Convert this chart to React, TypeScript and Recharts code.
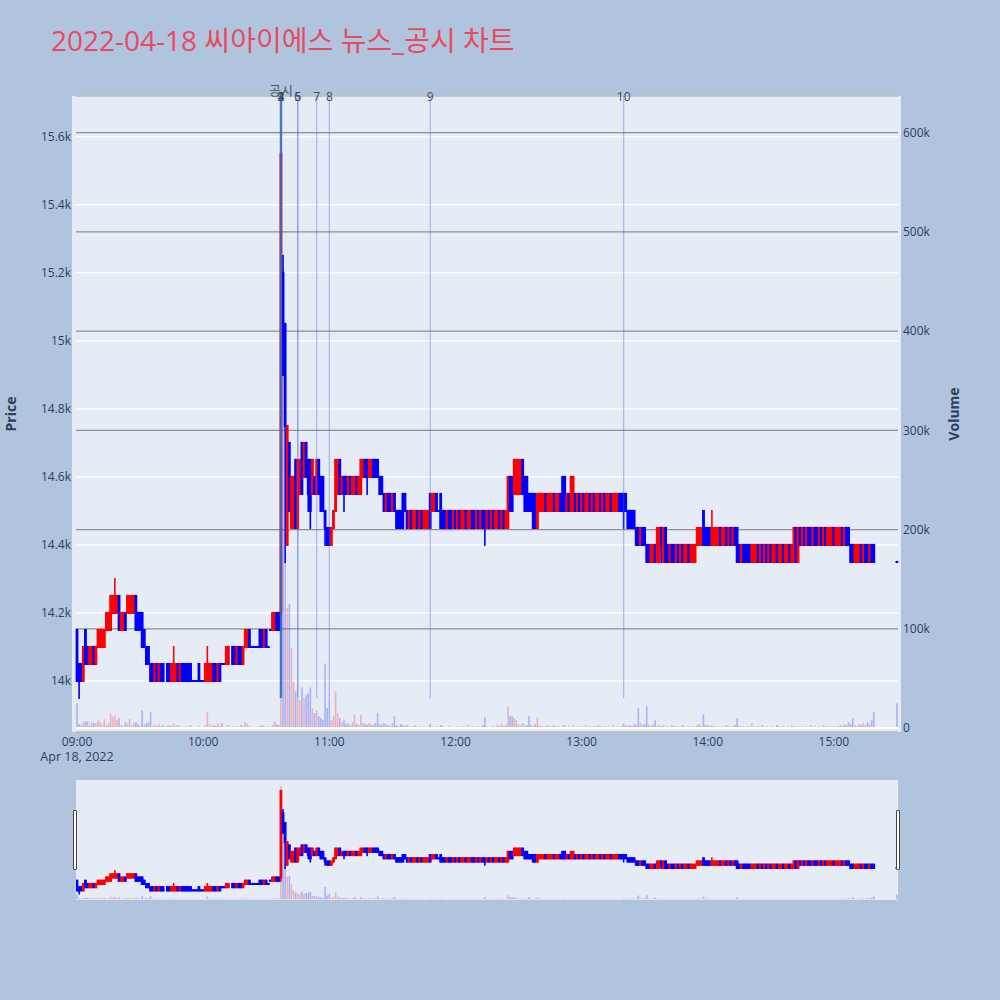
import { ComposedChart, Bar, XAxis, YAxis, CartesianGrid, ReferenceLine } from "recharts";

type Candle = [number, number, number, number] | null; // open, high, low, close

const title = "2022-04-18 씨아이에스 뉴스_공시 차트";
const dateLabel = "Apr 18, 2022";

const timeTicks = [0, 60, 120, 180, 240, 300, 360];
const timeLabels = ["09:00", "10:00", "11:00", "12:00", "13:00", "14:00", "15:00"];
const priceTicks = [14000, 14200, 14400, 14600, 14800, 15000, 15200, 15400, 15600];
const priceLabels = ["14k", "14.2k", "14.4k", "14.6k", "14.8k", "15k", "15.2k", "15.4k", "15.6k"];
const volumeTicks = [0, 100000, 200000, 300000, 400000, 500000, 600000];
const volumeLabels = ["0", "100k", "200k", "300k", "400k", "500k", "600k"];

// news / disclosure markers (minute index from 09:00)
const newsMinutes = [97, 97, 97, 97, 105, 105, 114, 120, 168, 260];
const newsLabels = ["1", "2", "3", "4", "5", "6", "7", "8", "9", "10"];

// 1-minute candles, 09:00 ~ 15:30
const c09: Candle[] = [
  [14150,14150,14000,14000],[14050,14050,13950,14000],[14050,14050,14000,14000],[14000,14100,14000,14100],[14150,14150,14050,14050],
  [14100,14100,14050,14050],[14050,14100,14050,14100],[14050,14100,14050,14100],[14100,14100,14050,14050],[14050,14100,14050,14100],
  [14100,14150,14100,14150],[14100,14150,14100,14150],[14100,14150,14100,14150],[14100,14150,14100,14150],[14150,14200,14150,14200],
  [14150,14200,14150,14200],[14150,14250,14150,14250],[14200,14250,14200,14250],[14200,14300,14200,14250],[14200,14250,14200,14250],
  [14250,14250,14150,14150],[14150,14200,14150,14200],[14150,14200,14150,14200],[14200,14200,14150,14150],[14200,14250,14200,14250],
  [14200,14250,14200,14250],[14200,14250,14200,14250],[14200,14250,14200,14250],[14250,14250,14150,14150],[14200,14200,14150,14150],
  [14200,14200,14150,14150],[14200,14200,14100,14100],[14150,14150,14100,14100],[14100,14100,14050,14050],[14100,14100,14050,14050],
  [14050,14050,14000,14000],[14050,14050,14000,14000],[14000,14050,14000,14050],[14050,14050,14000,14000],[14000,14050,14000,14050],
  [14050,14050,14000,14000],[14050,14050,14000,14000],null,[14050,14050,14000,14000],[14050,14050,14000,14000],
  [14000,14050,14000,14050],[14000,14100,14000,14050],[14000,14050,14000,14050],[14050,14050,14000,14000],[14000,14050,14000,14050],
  [14050,14050,14000,14000],[14050,14050,14000,14000],[14050,14050,14000,14000],[14050,14050,14000,14000],[14050,14050,14000,14000],
  [14000,14000,14000,14000],[14000,14000,14000,14000],[14000,14000,14000,14000],[14050,14050,14000,14000],[14000,14000,14000,14000],
];
const c10: Candle[] = [
  [14000,14000,14000,14000],[14000,14050,14000,14050],[14000,14100,14000,14050],[14000,14050,14000,14050],[14000,14050,14000,14050],
  [14050,14050,14000,14000],[14050,14050,14000,14000],[14000,14050,14000,14050],[14050,14050,14000,14000],[14050,14050,14050,14050],
  [14050,14050,14050,14050],[14050,14100,14050,14100],[14050,14100,14050,14100],null,[14100,14100,14050,14050],
  [14100,14100,14050,14050],[14050,14100,14050,14100],[14100,14100,14050,14050],[14100,14100,14050,14050],[14050,14100,14050,14100],
  [14100,14150,14100,14150],[14100,14150,14100,14150],[14150,14150,14100,14100],[14100,14100,14100,14100],[14100,14100,14100,14100],
  [14100,14100,14100,14100],[14100,14100,14100,14100],[14150,14150,14100,14100],[14150,14150,14100,14100],[14100,14150,14100,14150],
  [14150,14150,14100,14100],[14100,14100,14100,14100],[14150,14150,14150,14150],[14150,14200,14150,14200],[14150,14200,14150,14200],
  [14200,14200,14150,14150],[14200,14200,14150,14150],[14200,15550,14150,15550],[15200,15250,14900,14900],[15050,15050,14350,14750],
  [14400,14750,14400,14750],[14700,14700,14500,14500],[14450,14600,14450,14600],[14450,14600,14450,14600],[14650,14650,14450,14450],
  [14450,14650,14450,14650],[14550,14650,14550,14650],[14700,14700,14550,14550],[14600,14700,14600,14700],[14700,14700,14600,14600],
  [14650,14650,14500,14550],[14650,14650,14450,14500],[14550,14650,14550,14650],[14600,14600,14550,14550],[14550,14650,14550,14650],
  [14650,14650,14550,14550],[14600,14600,14500,14500],[14600,14600,14500,14500],[14500,14500,14400,14450],[14450,14450,14400,14400],
];
const c11: Candle[] = [
  [14450,14450,14400,14400],[14400,14450,14400,14450],[14450,14500,14450,14500],[14500,14650,14500,14650],[14550,14650,14550,14650],
  [14650,14650,14550,14550],[14550,14600,14550,14600],[14600,14600,14500,14550],[14600,14600,14550,14550],[14550,14600,14550,14600],
  [14600,14600,14550,14550],[14550,14600,14550,14600],[14550,14600,14550,14600],[14600,14600,14550,14550],[14550,14600,14550,14600],
  [14550,14650,14550,14650],[14600,14650,14600,14650],[14650,14650,14600,14600],[14650,14650,14550,14600],[14600,14650,14600,14650],
  [14600,14650,14600,14650],[14650,14650,14600,14600],[14650,14650,14600,14600],[14650,14650,14600,14600],[14600,14600,14550,14550],
  [14600,14600,14550,14550],[14550,14550,14500,14500],[14500,14550,14500,14550],[14550,14550,14500,14500],[14550,14550,14500,14500],
  [14500,14550,14500,14550],[14550,14550,14500,14500],[14500,14500,14450,14450],[14500,14500,14450,14450],[14500,14500,14450,14450],
  [14550,14550,14450,14450],[14550,14550,14500,14500],[14500,14500,14450,14450],[14450,14500,14450,14500],[14500,14500,14450,14450],
  [14450,14500,14450,14500],[14450,14500,14450,14500],[14500,14500,14450,14450],[14450,14500,14450,14500],[14500,14500,14450,14450],
  [14450,14500,14450,14500],[14450,14500,14450,14500],[14450,14500,14450,14500],[14550,14550,14450,14450],[14500,14550,14500,14550],
  [14500,14550,14500,14550],[14550,14550,14500,14500],[14500,14500,14500,14500],[14550,14550,14450,14450],[14500,14500,14450,14450],
  [14500,14500,14450,14450],[14450,14500,14450,14500],[14500,14500,14450,14450],[14500,14500,14450,14450],[14450,14500,14450,14500],
];
const c12: Candle[] = [
  [14500,14500,14450,14450],[14450,14500,14450,14500],[14500,14500,14450,14450],[14450,14500,14450,14500],[14450,14500,14450,14500],
  [14500,14500,14450,14450],[14450,14500,14450,14500],[14450,14500,14450,14500],[14500,14500,14450,14450],[14500,14500,14450,14450],
  [14450,14500,14450,14500],[14500,14500,14450,14450],[14450,14500,14450,14500],[14500,14500,14450,14450],[14500,14500,14400,14450],
  [14450,14500,14450,14500],[14500,14500,14450,14450],[14450,14500,14450,14500],[14500,14500,14450,14450],[14450,14500,14450,14500],
  [14450,14500,14450,14500],[14500,14500,14450,14450],[14450,14500,14450,14500],[14500,14500,14450,14450],[14450,14500,14450,14500],
  [14450,14600,14450,14600],[14600,14600,14500,14500],[14600,14600,14500,14500],[14550,14650,14550,14650],[14550,14650,14550,14650],
  [14550,14650,14550,14650],[14550,14650,14550,14650],[14650,14650,14550,14550],[14600,14600,14500,14500],[14600,14600,14500,14500],
  [14550,14550,14500,14500],[14550,14550,14500,14500],[14550,14550,14450,14450],[14550,14550,14450,14450],[14450,14550,14450,14550],
  [14500,14550,14500,14550],[14500,14550,14500,14550],[14500,14550,14500,14550],[14550,14550,14500,14500],[14500,14550,14500,14550],
  [14500,14550,14500,14550],[14500,14550,14500,14550],[14550,14550,14500,14500],[14500,14550,14500,14550],[14500,14550,14500,14550],
  [14550,14550,14500,14500],[14600,14600,14500,14500],[14600,14600,14500,14500],[14500,14550,14500,14550],[14550,14550,14500,14500],
  [14500,14600,14500,14600],[14500,14600,14500,14600],[14550,14550,14500,14500],[14500,14550,14500,14550],[14550,14550,14500,14500],
];
const c13: Candle[] = [
  [14500,14550,14500,14550],[14550,14550,14500,14500],[14500,14550,14500,14550],[14500,14550,14500,14550],[14550,14550,14500,14500],
  [14500,14550,14500,14550],[14550,14550,14500,14500],[14500,14550,14500,14550],[14500,14550,14500,14550],[14550,14550,14500,14500],
  [14500,14550,14500,14550],[14550,14550,14500,14500],[14500,14550,14500,14550],[14500,14550,14500,14550],[14550,14550,14500,14500],
  [14500,14550,14500,14550],[14500,14550,14500,14550],[14500,14550,14500,14550],[14550,14550,14500,14500],[14550,14550,14500,14500],
  [14550,14550,14450,14500],[14550,14550,14500,14500],[14500,14500,14450,14450],[14500,14500,14450,14450],[14500,14500,14450,14450],
  [14500,14500,14450,14450],[14450,14450,14400,14400],[14450,14450,14400,14400],[14400,14450,14400,14450],[14450,14450,14400,14400],
  [14450,14450,14400,14400],[14400,14400,14350,14350],[14400,14400,14350,14350],[14350,14400,14350,14400],[14350,14400,14350,14400],
  [14400,14400,14350,14350],[14350,14450,14350,14450],[14350,14450,14350,14450],[14450,14450,14350,14400],[14350,14450,14350,14450],
  [14450,14450,14350,14350],[14400,14400,14350,14350],[14350,14400,14350,14400],[14400,14400,14350,14350],[14400,14400,14350,14350],
  [14350,14400,14350,14400],[14400,14400,14350,14350],[14350,14400,14350,14400],[14400,14400,14350,14350],[14350,14400,14350,14400],
  [14350,14400,14350,14400],[14400,14400,14350,14350],[14350,14400,14350,14400],[14350,14400,14350,14400],[14350,14400,14350,14400],
  [14400,14450,14400,14450],[14400,14450,14400,14450],[14400,14450,14400,14450],[14500,14500,14400,14400],[14450,14450,14400,14400],
];
const c14: Candle[] = [
  [14450,14450,14400,14400],[14450,14450,14400,14400],[14400,14500,14400,14450],[14400,14450,14400,14450],[14400,14450,14400,14450],
  [14400,14450,14400,14450],[14450,14450,14400,14400],[14400,14450,14400,14450],[14400,14450,14400,14450],[14450,14450,14400,14400],
  [14400,14450,14400,14450],[14450,14450,14400,14400],[14400,14450,14400,14450],[14450,14450,14400,14400],[14450,14450,14350,14350],
  [14400,14400,14350,14350],[14350,14400,14350,14400],[14400,14400,14350,14350],[14400,14400,14350,14350],[14400,14400,14350,14350],
  [14400,14400,14350,14350],[14350,14400,14350,14400],[14350,14400,14350,14400],[14350,14400,14350,14400],[14400,14400,14350,14350],
  [14350,14400,14350,14400],[14400,14400,14350,14350],[14350,14400,14350,14400],[14400,14400,14350,14350],[14350,14400,14350,14400],
  [14400,14400,14350,14350],[14350,14400,14350,14400],[14350,14400,14350,14400],[14400,14400,14350,14350],[14350,14400,14350,14400],
  [14350,14400,14350,14400],[14400,14400,14350,14350],[14350,14400,14350,14400],[14350,14400,14350,14400],[14400,14400,14350,14350],
  [14350,14400,14350,14400],[14350,14450,14350,14450],[14450,14450,14350,14350],[14350,14450,14350,14450],[14450,14450,14400,14400],
  [14400,14450,14400,14450],[14450,14450,14400,14400],[14400,14450,14400,14450],[14450,14450,14400,14400],[14450,14450,14400,14400],
  [14400,14450,14400,14450],[14450,14450,14400,14400],[14450,14450,14400,14400],[14400,14450,14400,14450],[14450,14450,14400,14400],
  [14400,14450,14400,14450],[14450,14450,14400,14400],[14400,14450,14400,14450],[14400,14450,14400,14450],[14400,14450,14400,14450],
];
const c15: Candle[] = [
  [14450,14450,14400,14400],[14400,14450,14400,14450],[14400,14450,14400,14450],[14400,14450,14400,14450],[14450,14450,14400,14400],
  [14400,14450,14400,14450],[14450,14450,14400,14400],[14450,14450,14400,14400],[14400,14400,14350,14350],[14400,14400,14350,14350],
  [14350,14400,14350,14400],[14350,14400,14350,14400],[14350,14400,14350,14400],[14400,14400,14350,14350],[14350,14400,14350,14400],
  [14400,14400,14350,14350],[14400,14400,14350,14350],[14350,14400,14350,14400],[14400,14400,14350,14350],[14400,14400,14350,14350],
  null,null,null,null,null,null,null,null,null,null,
  [14350,14350,14350,14350],
];

// 1-minute volume
const v09 = [
  25000,4000,3000,6000,7000,7000,3000,6000,5000,5000, 8000,6000,4000,9000,3000,5000,14000,11000,13000,8000,
  10000,3000,2000,6000,4000,9000,3000,5000,6000,4000, 2000,18000,3000,5000,6000,16000,2000,3000,2000,4000,
  2000,3000,0,2000,3000,2000,4000,2000,3000,2000, 1000,1000,2000,1000,3000,1000,1000,1000,2000,1000,
];
const v10 = [
  1000,3000,16000,4000,2000,3000,2000,5000,2000,5000, 1000,2000,3000,0,2000,1000,2000,1000,3000,2000,
  6000,4000,2000,1000,1000,1000,1000,2000,3000,2000, 1000,2000,1000,3000,6000,4000,3000,605000,465000,170000,
  121000,125000,81000,47000,37000,30000,28000,41000,30000,33000, 35000,41000,20000,15000,18000,12000,10000,8000,65000,20000,
];
const v11 = [
  30000,8000,12000,37000,15000,10000,6000,8000,4000,5000, 3000,6000,14000,4000,3000,13000,5000,4000,3000,5000,
  4000,3000,5000,15000,4000,3000,5000,4000,3000,2000, 5000,12000,3000,2000,4000,3000,2000,3000,2000,1000,
  2000,3000,1000,2000,1000,2000,1000,1000,4000,2000, 1000,2000,1000,3000,2000,1000,1000,2000,1000,1000,
];
const v12 = [
  1000,2000,1000,1000,2000,1000,3000,1000,2000,1000, 1000,2000,1000,3000,11000,2000,1000,1000,2000,1000,
  3000,2000,4000,2000,3000,22000,12000,12000,10000,8000, 4000,3000,5000,2000,3000,12000,3000,2000,4000,11000,
  3000,2000,1000,2000,3000,1000,2000,3000,1000,2000, 1000,2000,3000,1000,2000,1000,3000,1000,2000,1000,
];
const v13 = [
  2000,1000,3000,1000,2000,1000,2000,1000,3000,2000, 1000,2000,1000,2000,1000,3000,1000,2000,1000,2000,
  4000,3000,2000,3000,2000,4000,3000,20000,5000,3000, 4000,22000,3000,2000,4000,8000,2000,3000,2000,3000,
  1000,2000,1000,3000,2000,1000,2000,1000,3000,2000, 1000,2000,1000,2000,1000,3000,4000,2000,14000,3000,
];
const v14 = [
  3000,2000,3000,2000,1000,2000,1000,2000,1000,3000, 2000,1000,2000,3000,10000,2000,1000,2000,1000,2000,
  1000,5000,2000,1000,2000,1000,3000,1000,2000,1000, 1000,2000,1000,3000,2000,1000,2000,1000,2000,1000,
  3000,2000,1000,2000,1000,2000,1000,2000,1000,3000, 1000,2000,1000,2000,1000,3000,2000,1000,2000,1000,
];
const v15 = [
  2000,1000,2000,3000,2000,4000,3000,6000,4000,10000, 3000,2000,4000,3000,5000,3000,6000,4000,8000,16000,
  0,0,0,0,0,0,0,0,0,0, 25000,
];

const candles = [...c09, ...c10, ...c11, ...c12, ...c13, ...c14, ...c15];
const volumes = [...v09, ...v10, ...v11, ...v12, ...v13, ...v14, ...v15];

const rows = candles.map((k, i) => ({
  t: i,
  hl: k ? [k[2], k[1]] : null,
  o: k ? k[0] : null,
  h: k ? k[1] : null,
  l: k ? k[2] : null,
  c: k ? k[3] : null,
  vol: k ? volumes[i] : null,
  up: k ? k[3] > k[0] : false,
}));

const UP = "#ff0000";
const DOWN = "#0000ff";
const FONT = "'Open Sans', 'Noto Sans CJK KR', sans-serif";
const INK = "#2a3f5f";
const PRICE_DOMAIN = [13850, 15720];
const VOL_DOMAIN = [-4000, 637000];

function CandleShape(props: any) {
  const { x, width, payload } = props;
  let { y, height } = props;
  if (!payload || payload.o == null || !Number.isFinite(y)) return null;
  if (height < 0) {
    y += height;
    height = -height;
  }
  const cx = x + width / 2;
  const { o, h, l, c } = payload;
  const k = h > l ? height / (h - l) : 0;
  const yo = y + (h - o) * k;
  const yc = y + (h - c) * k;
  const color = c > o ? UP : DOWN;
  const top = Math.min(yo, yc);
  const bot = Math.max(yo, yc);
  return (
    <g>
      <rect x={cx - 0.8} y={y - 1} width={1.6} height={height + 2} fill={color} />
      <rect x={cx - 1.4} y={top - 1} width={2.8} height={bot - top + 2} fill={color} />
    </g>
  );
}

function VolumeShape(props: any) {
  const { x, y, width, height, payload } = props;
  if (!payload || !payload.vol || !Number.isFinite(y)) return null;
  const cx = x + width / 2;
  return (
    <rect
      x={cx - 0.8}
      y={height < 0 ? y + height : y}
      width={1.6}
      height={Math.abs(height)}
      fill={payload.up ? UP : DOWN}
      fillOpacity={0.25}
    />
  );
}

function NewsLabel(props: any) {
  const { viewBox, text, extra } = props;
  if (!viewBox) return null;
  const x = viewBox.x + (viewBox.width || 0) / 2;
  const y = viewBox.y;
  return (
    <g fontFamily={FONT} fill="#3c4b60" textAnchor="middle">
      {extra ? (
        <text x={x} y={y - 6} dy="0.35em" fontSize={13} fill="#4a5566">
          {extra}
        </text>
      ) : null}
      <text x={x} y={y + 1} dy="0.35em" fontSize={12}>
        {text}
      </text>
    </g>
  );
}

function MainChart() {
  return (
    <ComposedChart
      width={1000}
      height={760}
      data={rows}
      margin={{ top: 96, right: 42, bottom: 8, left: 16 }}
      barCategoryGap={0}
    >
      <CartesianGrid xAxisId="xp" yAxisId="p" vertical={false} stroke="#ffffff" strokeWidth={1.5} />
      <CartesianGrid xAxisId="xp" yAxisId="v" vertical={false} stroke="#8f8f8f" strokeWidth={1.2} />
      <XAxis
        xAxisId="xp"
        dataKey="t"
        type="category"
        ticks={timeTicks}
        interval={0}
        tickFormatter={(v: number) => timeLabels[timeTicks.indexOf(v)] ?? ""}
        axisLine={false}
        tickLine={false}
        tickSize={0}
        tickMargin={5}
        height={20}
        tick={{ fill: INK, fontSize: 12, fontFamily: FONT }}
      />
      <XAxis xAxisId="xv" dataKey="t" type="category" hide />
      <YAxis
        yAxisId="p"
        orientation="left"
        type="number"
        domain={PRICE_DOMAIN}
        allowDataOverflow
        ticks={priceTicks}
        interval={0}
        tickFormatter={(v: number) => priceLabels[priceTicks.indexOf(v)] ?? ""}
        axisLine={false}
        tickLine={false}
        tickSize={0}
        tickMargin={5}
        width={60}
        tick={{ fill: INK, fontSize: 12, fontFamily: FONT }}
      />
      <YAxis
        yAxisId="v"
        orientation="right"
        type="number"
        domain={VOL_DOMAIN}
        allowDataOverflow
        ticks={volumeTicks}
        interval={0}
        tickFormatter={(v: number) => volumeLabels[volumeTicks.indexOf(v)] ?? ""}
        axisLine={false}
        tickLine={false}
        tickSize={0}
        tickMargin={5}
        width={60}
        tick={{ fill: INK, fontSize: 12, fontFamily: FONT }}
      />
      <ReferenceLine yAxisId="v" xAxisId="xp" y={0} stroke="#ffffff" strokeWidth={2} />
      <Bar
        xAxisId="xv"
        yAxisId="v"
        dataKey="vol"
        barSize={2}
        shape={VolumeShape}
        isAnimationActive={false}
      />
      <Bar
        xAxisId="xp"
        yAxisId="p"
        dataKey="hl"
        barSize={2}
        shape={CandleShape}
        isAnimationActive={false}
      />
      {newsMinutes.map((m, i) => (
        <ReferenceLine
          key={`news-${i}`}
          xAxisId="xp"
          yAxisId="p"
          segment={[
            { x: m, y: 13950 },
            { x: m, y: PRICE_DOMAIN[1] },
          ]}
          stroke={i === 0 ? "#2f6f8c" : "#4169e1"}
          strokeOpacity={i === 0 ? 0.75 : 0.4}
          strokeWidth={i === 0 ? 2.5 : 1.2}
          label={<NewsLabel text={newsLabels[i]} extra={i === 0 ? "공시" : undefined} />}
        />
      ))}
    </ComposedChart>
  );
}

function SliderChart() {
  return (
    <ComposedChart
      width={822}
      height={120}
      data={rows}
      margin={{ top: 0, right: 0, bottom: 0, left: 0 }}
      barCategoryGap={0}
    >
      <XAxis xAxisId="xp" dataKey="t" type="category" hide />
      <XAxis xAxisId="xv" dataKey="t" type="category" hide />
      <YAxis yAxisId="p" type="number" domain={PRICE_DOMAIN} allowDataOverflow hide />
      <YAxis yAxisId="v" type="number" domain={VOL_DOMAIN} allowDataOverflow hide />
      <Bar xAxisId="xv" yAxisId="v" dataKey="vol" barSize={2} shape={VolumeShape} isAnimationActive={false} />
      <Bar xAxisId="xp" yAxisId="p" dataKey="hl" barSize={2} shape={CandleShape} isAnimationActive={false} />
    </ComposedChart>
  );
}

const handleStyle: React.CSSProperties = {
  position: "absolute",
  top: 810,
  width: 4,
  height: 60,
  background: "#ffffff",
  border: "1px solid #444",
  boxSizing: "border-box",
  borderRadius: 1,
};

export default function App() {
  return (
    <div
      style={{
        position: "absolute",
        left: 0,
        top: 0,
        width: 1000,
        height: 1000,
        background: "#b0c4de",
        overflow: "hidden",
      }}
    >
      <div style={{ position: "absolute", left: 72, top: 96, width: 829, height: 636, background: "#e5ecf6" }} />
      <div style={{ position: "absolute", left: 0, top: 0 }}>
        <MainChart />
      </div>
      <div style={{ position: "absolute", left: 76, top: 780, width: 822, height: 120, background: "#e5ecf6" }} />
      <div style={{ position: "absolute", left: 76, top: 780 }}>
        <SliderChart />
      </div>
      <div style={{ ...handleStyle, left: 73 }} />
      <div style={{ ...handleStyle, left: 896 }} />
      <svg
        width={1000}
        height={1000}
        style={{ position: "absolute", left: 0, top: 0, pointerEvents: "none" }}
        fontFamily={FONT}
      >
        <text x={51} y={51} fontSize={28} fill="#e84a5f">
          {title}
        </text>
        <text x={77} y={761} fontSize={12.5} fill={INK} textAnchor="middle">
          {dateLabel}
        </text>
        <text
          x={10}
          y={414}
          fontSize={14}
          fontWeight="bold"
          fill={INK}
          textAnchor="middle"
          dominantBaseline="central"
          transform="rotate(-90 10 414)"
        >
          Price
        </text>
        <text
          x={953}
          y={414}
          fontSize={14}
          fontWeight="bold"
          fill={INK}
          textAnchor="middle"
          dominantBaseline="central"
          transform="rotate(-90 953 414)"
        >
          Volume
        </text>
      </svg>
    </div>
  );
}
